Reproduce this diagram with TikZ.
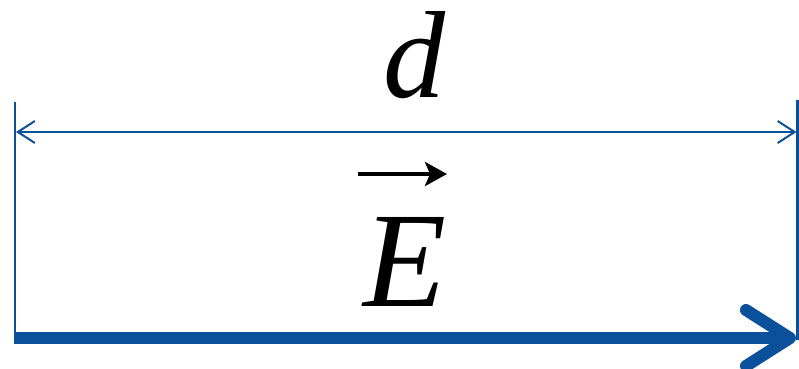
\documentclass[tikz,border=0pt]{standalone}
\usepackage{fontspec}
\setmainfont{Liberation Serif}
\usetikzlibrary{arrows.meta}
\definecolor{fieldblue}{RGB}{10,80,155}
\begin{document}
\begin{tikzpicture}[x=1pt,y=-1pt,
  guide/.style={draw=fieldblue,line width=2.5pt},
  dimline/.style={draw=fieldblue,line width=2pt,
    {Straight Barb[length=17pt,width=22pt]}-{Straight Barb[length=17pt,width=22pt]}},
  fieldarrow/.style={draw=fieldblue,line width=12pt,
    -{Straight Barb[length=44pt,width=56pt,line cap=round,line join=round]}},
  bigtext/.style={inner sep=0pt,anchor=base}]
\useasboundingbox (0,0) rectangle (799,368);
\fill[white] (0,0) rectangle (799,368);
% guide lines
\coordinate (L1) at (15,102); \coordinate (L2) at (15,344);
\coordinate (R1) at (797.5,100); \coordinate (R2) at (797.5,340);
\draw[guide] (L1) -- (L2);
\draw[guide] (R1) -- (R2);
% dimension
\coordinate (DL) at (16,132); \coordinate (DR) at (796.5,132);
\draw[dimline] (DL) -- (DR);
\node[bigtext,font=\fontsize{124}{124}\selectfont\itshape] (d) at (414,97) {d};
% field
\node[bigtext,font=\fontsize{136}{136}\selectfont\itshape] (E) at (405,306) {E};
\coordinate (VA) at (358,174); \coordinate (VB) at (447,174);
\draw[line width=4pt,-{Stealth[length=22pt,width=24pt,inset=5pt]}] (VA) -- (VB);
\coordinate (FL) at (14,338); \coordinate (FR) at (796,338);
\draw[fieldarrow] (FL) -- (FR);
\end{tikzpicture}
\end{document}
